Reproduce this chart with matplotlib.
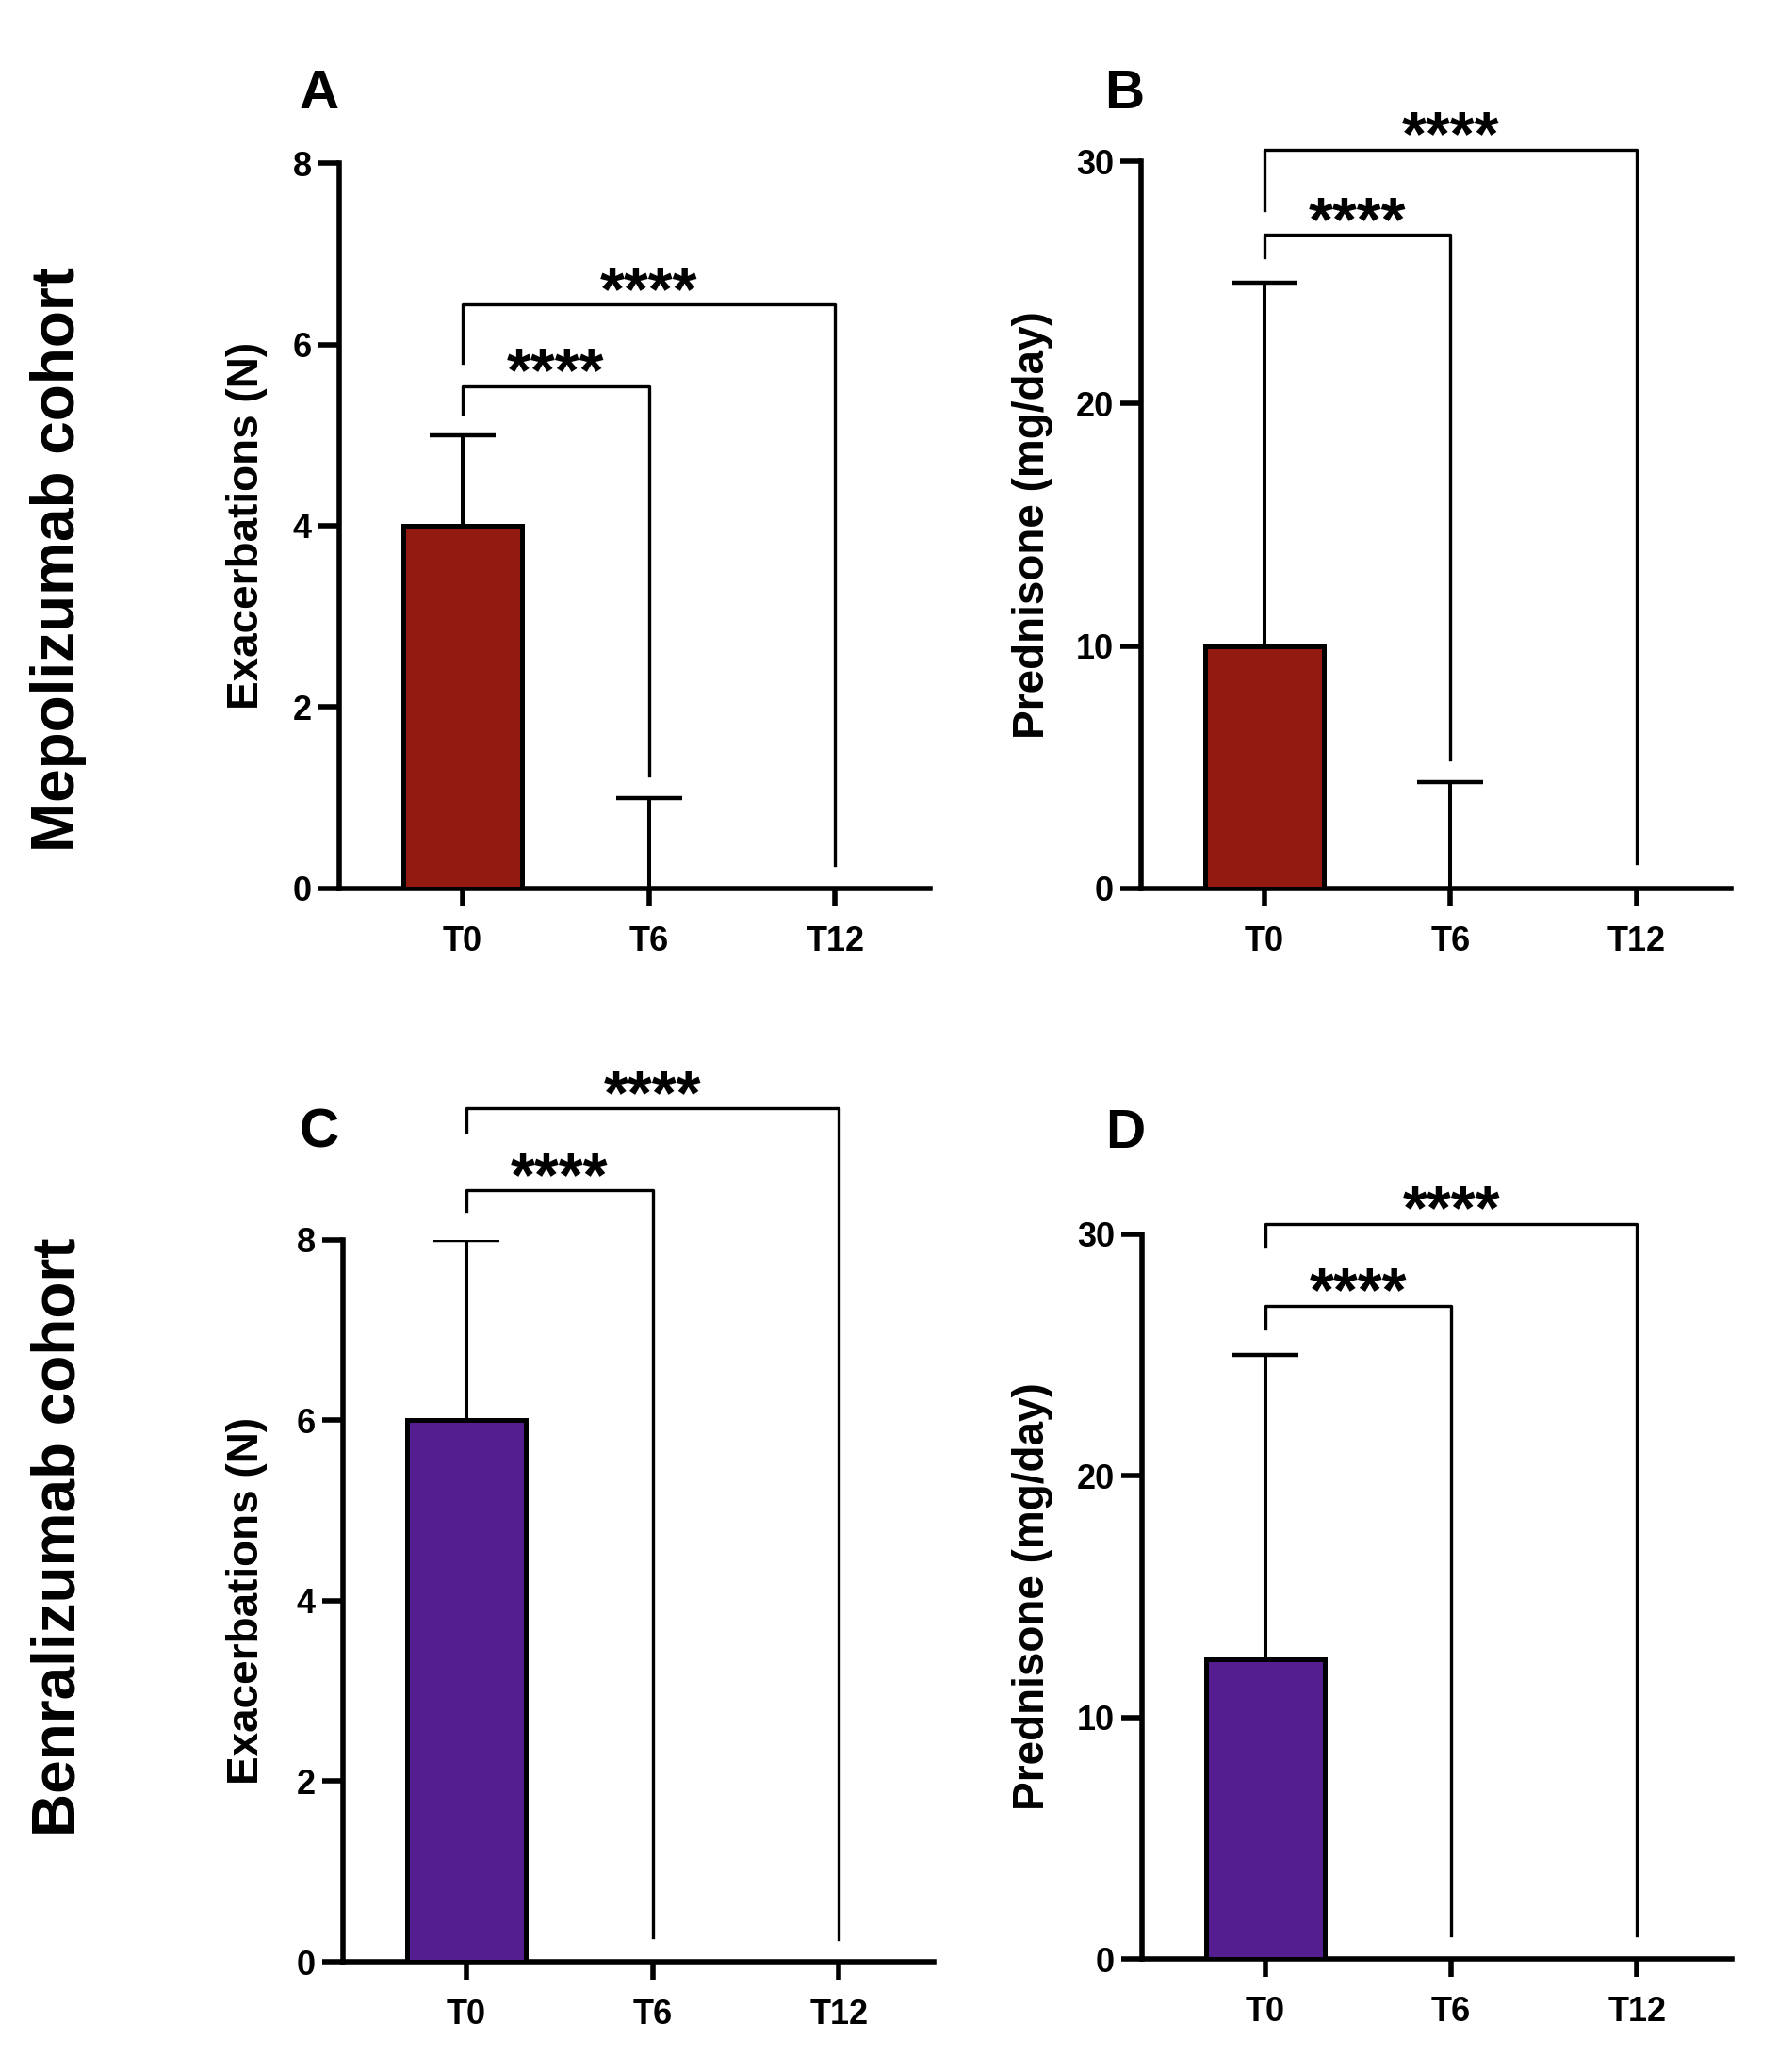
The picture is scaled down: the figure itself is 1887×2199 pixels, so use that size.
import matplotlib
matplotlib.use("Agg")
import matplotlib.pyplot as plt

plt.rcParams["font.family"] = ["Liberation Sans", "DejaVu Sans"]
plt.rcParams["font.weight"] = "bold"
plt.rcParams["axes.labelweight"] = "bold"

categories = ["T0", "T6", "T12"]

mepo_exac_mean = [4, 0, 0]
mepo_exac_upper = [5, 1, 0]
mepo_pred_mean = [10, 0, 0]
mepo_pred_upper = [25, 4.4, 0]

benra_exac_mean = [6, 0, 0]
benra_exac_upper = [8, 0, 0]
benra_pred_mean = [12.4, 0, 0]
benra_pred_upper = [25, 0, 0]

# (from, to, bracket level, left leg bottom, right leg bottom)
brackets_a = [(0, 2, 6.44, 5.80, 0.26), (0, 1, 5.54, 5.24, 1.25)]
brackets_b = [(0, 2, 30.47, 28.0, 1.04), (0, 1, 26.96, 26.05, 5.33)]
brackets_c = [(0, 2, 9.46, 9.2, 0.25), (0, 1, 8.55, 8.32, 0.27)]
brackets_d = [(0, 2, 30.43, 29.5, 1.0), (0, 1, 27.04, 26.1, 1.0)]

red = "#921A11"
purple = "#541E91"


def panel(ax, means, uppers, color, ymax, yticks, ylabel, brackets, label_x):
    x = list(range(len(categories)))
    ax.bar(x, means, width=0.64, color=color, edgecolor="black",
           linewidth=3.6, zorder=3)
    idx = [i for i in x if uppers[i] > means[i]]
    eb = ax.errorbar([x[i] for i in idx], [means[i] for i in idx],
                     yerr=[[0] * len(idx), [uppers[i] - means[i] for i in idx]],
                     fmt="none", ecolor="black", elinewidth=2.9,
                     capsize=25, capthick=3.2, zorder=2)
    eb[1][0].set_visible(False)

    for i, j, level, lb, rb in brackets:
        ax.plot([i, i, j, j], [lb, level, level, rb], color="black",
                lw=2.4, clip_on=False, zorder=4)
        ax.annotate("****", xy=((i + j) / 2, level), xytext=(0, -4),
                    textcoords="offset points", ha="center", va="baseline",
                    fontsize=48, fontweight="bold", annotation_clip=False)

    ax.set_xlim(-0.663, 2.51)
    ax.set_ylim(0, ymax)
    ax.set_yticks(yticks)
    ax.set_xticks(x)
    ax.set_xticklabels(categories)
    ax.spines["top"].set_visible(False)
    ax.spines["right"].set_visible(False)
    for s in ("left", "bottom"):
        ax.spines[s].set_linewidth(4)
    ax.tick_params(axis="x", length=14, width=4, pad=14, labelsize=26)
    ax.tick_params(axis="y", length=16, width=4, pad=5, labelsize=26)
    ax.set_ylabel(ylabel, fontsize=33, fontweight="bold")
    ax.yaxis.set_label_coords(label_x, 0.5)


fig = plt.figure(figsize=(18.87, 21.99), dpi=100)

ax_a = fig.add_axes([0.1908, 0.5712, 0.3323, 0.3501])
ax_b = fig.add_axes([0.6418, 0.5712, 0.3318, 0.3510])
ax_c = fig.add_axes([0.1929, 0.0532, 0.3323, 0.3484])
ax_d = fig.add_axes([0.6423, 0.0545, 0.3318, 0.3498])

panel(ax_a, mepo_exac_mean, mepo_exac_upper, red, 8, [0, 2, 4, 6, 8],
      "Exacerbations (N)", brackets_a, -0.122)
panel(ax_b, mepo_pred_mean, mepo_pred_upper, red, 30, [0, 10, 20, 30],
      "Prednisone (mg/day)", brackets_b, -0.148)
panel(ax_c, benra_exac_mean, benra_exac_upper, purple, 8, [0, 2, 4, 6, 8],
      "Exacerbations (N)", brackets_c, -0.128)
panel(ax_d, benra_pred_mean, benra_pred_upper, purple, 30, [0, 10, 20, 30],
      "Prednisone (mg/day)", brackets_d, -0.150)

letters = ["A", "B", "C", "D"]
letter_x = [0.1796, 0.6322, 0.1796, 0.6328]
letter_y = [0.9545, 0.9545, 0.4530, 0.4530]
for t, lx, ly in zip(letters, letter_x, letter_y):
    fig.text(lx, ly, t, fontsize=42, fontweight="bold", ha="center",
             va="center")

fig.text(0.033, 0.73, "Mepolizumab cohort", rotation=90, fontsize=46,
         fontweight="bold", ha="center", va="center")
fig.text(0.033, 0.258, "Benralizumab cohort", rotation=90, fontsize=46,
         fontweight="bold", ha="center", va="center")

fig.savefig("out.png", dpi=100)
